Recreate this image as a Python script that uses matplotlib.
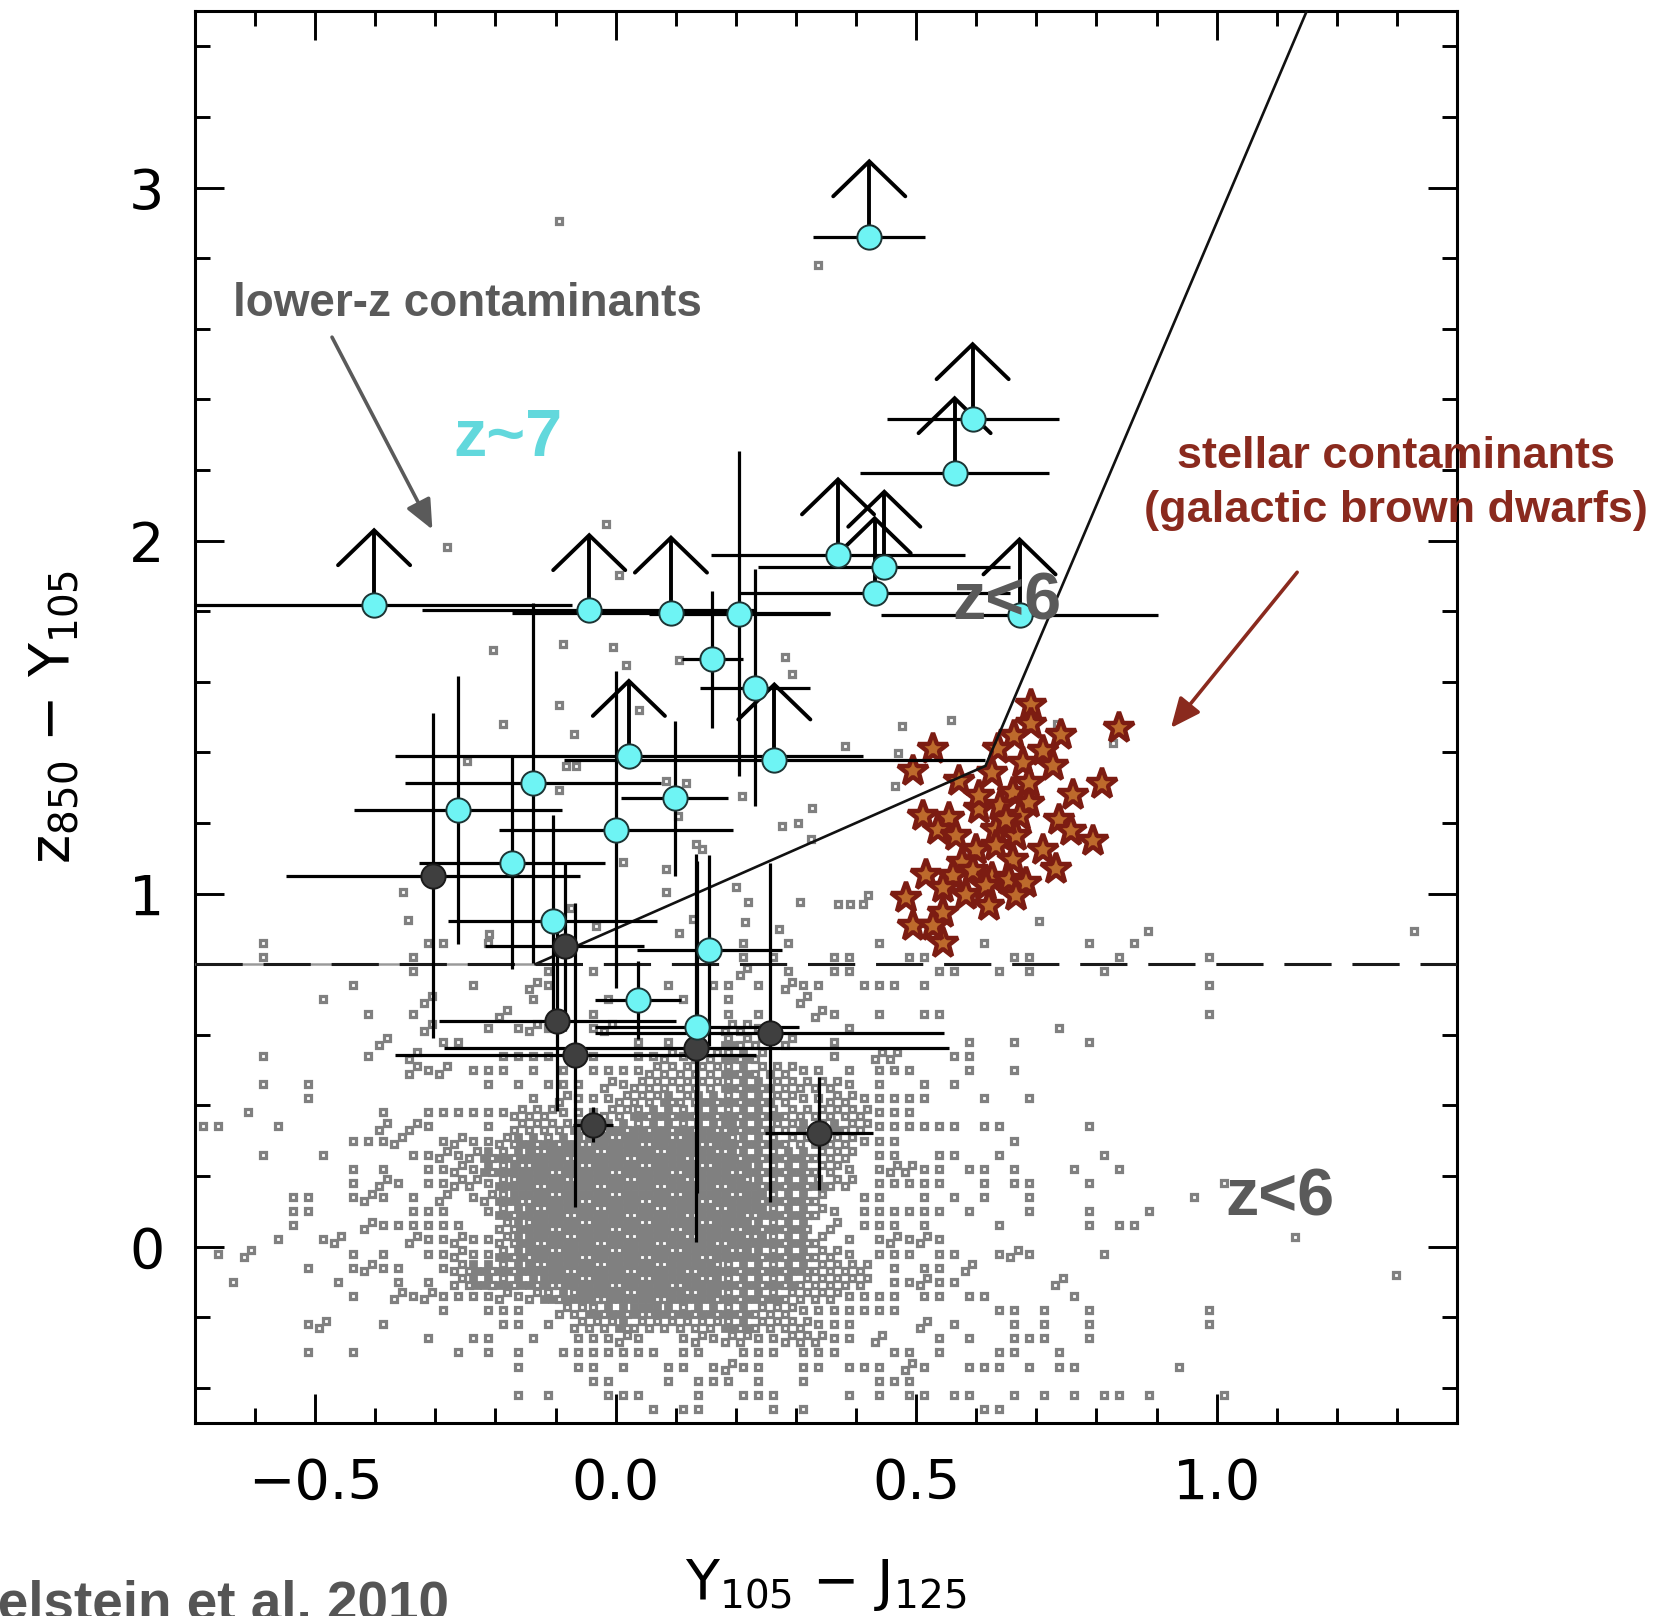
import numpy as np
import matplotlib
matplotlib.use("Agg")
import matplotlib.pyplot as plt
from matplotlib.ticker import MultipleLocator, FixedLocator, FuncFormatter

# ---------------------------------------------------------------- data ----
# z~7 candidates (cyan): Y105-J125, z850-Y105, errors, lower-limit flag
CAND_X    = [0.422, 0.594, 0.564, 0.370, 0.447, 0.431, 0.672, -0.402, -0.044, 0.092,
             0.206, 0.161, 0.232, 0.022, 0.264, -0.138, -0.263, 0.098, 0.001, -0.172,
             -0.105, 0.156, 0.037, 0.135]
CAND_Y    = [2.861, 2.343, 2.190, 1.960, 1.925, 1.850, 1.790, 1.816, 1.802, 1.795,
             1.793, 1.663, 1.583, 1.389, 1.379, 1.313, 1.236, 1.270, 1.181, 1.087,
             0.921, 0.839, 0.699, 0.622]
CAND_XERR = [0.093, 0.143, 0.157, 0.212, 0.210, 0.225, 0.230, 0.330, 0.278, 0.264,
             0.150, 0.051, 0.092, 0.390, 0.350, 0.213, 0.173, 0.089, 0.195, 0.155,
             0.174, 0.120, 0.071, 0.170]
CAND_YERR = [0.0, 0.0, 0.0, 0.0, 0.0, 0.0, 0.0, 0.0, 0.0, 0.0,
             0.460, 0.195, 0.335, 0.0, 0.0, 0.510, 0.380, 0.220, 0.450, 0.300,
             0.300, 0.270, 0.110, 0.470]
CAND_LOWLIM = [1, 1, 1, 1, 1, 1, 1, 1, 1, 1,
               0, 0, 0, 1, 1, 0, 0, 0, 0, 0,
               0, 0, 0, 0]

# rejected candidates (dark grey)
REJ_X    = [-0.304, -0.085, -0.097, -0.067, -0.038, 0.134, 0.256, 0.338]
REJ_Y    = [1.050, 0.850, 0.638, 0.542, 0.345, 0.562, 0.605, 0.321]
REJ_XERR = [0.244, 0.132, 0.197, 0.300, 0.033, 0.420, 0.290, 0.090]
REJ_YERR = [0.460, 0.240, 0.255, 0.430, 0.050, 0.550, 0.480, 0.160]

# brown dwarfs (stars)
BD_X = [0.691, 0.691, 0.663, 0.741, 0.711, 0.838, 0.636, 0.528, 0.494, 0.572,
        0.627, 0.677, 0.727, 0.810, 0.761, 0.661, 0.639, 0.605, 0.688, 0.672,
        0.511, 0.555, 0.536, 0.566, 0.738, 0.758, 0.794, 0.633, 0.666, 0.711,
        0.733, 0.600, 0.633, 0.661, 0.577, 0.516, 0.561, 0.594, 0.627, 0.655,
        0.683, 0.544, 0.583, 0.616, 0.666, 0.622, 0.483, 0.544, 0.494, 0.544,
        0.528, 0.650, 0.605, 0.688]
BD_Y = [1.535, 1.479, 1.446, 1.450, 1.403, 1.469, 1.408, 1.408, 1.346, 1.318,
        1.342, 1.370, 1.361, 1.309, 1.280, 1.285, 1.247, 1.238, 1.257, 1.219,
        1.219, 1.214, 1.181, 1.162, 1.209, 1.176, 1.148, 1.181, 1.162, 1.124,
        1.068, 1.124, 1.134, 1.096, 1.087, 1.053, 1.049, 1.063, 1.044, 1.039,
        1.030, 1.016, 0.997, 1.020, 0.992, 0.964, 0.987, 0.945, 0.907, 0.860,
        0.907, 1.209, 1.275, 1.313]

# field galaxies: counts per colour-colour cell (rows from top, columns from left)
FIELD_X_START = -0.70
FIELD_CELL_X = 0.025
FIELD_Y_TOP = 0.88
FIELD_CELL_Y = 0.04
FIELD_ROWS = [
    "....1..... .....11..1 .......... ......1..1 .....1.... ..1......1 ..1.......",
    "....1..... ....1..... .......... ......1.1. ..11...11. ....11.... .1.....1..",
    ".......... ....1..... ...1..1... ......2..1 ..11.....1 1..1.1.... 1.........",
    ".......... 1.......1. ..21...... .1..11.1.2 11..111.1. .......... .......1..",
    "........1. .....2.... ..1....1.. ..1..1.... 2......... .......... ..........",
    ".......... .1..1..... 2.....1... .....1.1.. .21..1..11 .......... .......1..",
    ".......... .....2...1 .121..12.. .....221.. ...1...... .......1.. ..........",
    ".......... ..2...11.. .........1 .1.1.322.2 ..1....... .1..1....1 ..........",
    "....1..... .1..2..... 1111..1..1 12122332.. ..1..22... 11........ ..........",
    ".......... ....212.11 1.1.1.1111 2222233222 11.1.111.. .1..1..... ..........",
    "....1..1.. .........1 .1.111.212 2222233322 2221.1..1. 1......... ..........",
    ".......1.. .......... ..1.211122 2323333322 112211111. ..1..1.... ..........",
    "...1...... ..1..11111 1222111223 3333333332 22222111.. .......... ..........",
    "11...1.... ..2.21...1 .222233333 3333343322 3232211111 1.11.....1 ..........",
    ".......... 1112..1211 2333334444 4444443332 2322111... ....1..... ..........",
    "....1...1. ....112123 3344444444 4444443333 3222.11..1 1..1...... 1.........",
    ".......... 1.1..11213 3444444444 4444444333 3221.12211 .11.1...1. .1........",
    ".......... 1.21.11221 3444444444 4444444333 3322.11111 ..1.11...1 ........1.",
    "......11.. 121.1.2.12 3444444444 4444444433 32..11..1. 1.1..1.... ......1...",
    "......11.. ....111..1 3344444444 4444444433 321.111111 .1...1...1 ...1......",
    "......1... .2111111.. 2344444444 4444444333 3.2.111.1. ...1.....1 .11.......",
    ".....1..12 ....211211 2344444444 4444444433 32.1.12121 .......... ..........",
    ".1.2...... 1.1..11211 3344444444 4444444333 3221.111.1 1..121.... 1.........",
    ".......1.. 1211..1233 3344444444 4444433333 32222.1.11 .2........ ..........",
    "..1......1 ...1.1.233 3334444444 4444433333 22222.1121 1......2.. ..........",
    ".......... 1..2121111 2123344444 4444433332 2221111.11 .11.....1. ..........",
    ".......... ......1..1 11..223334 4333333222 1111111... ...11.1..1 .......1..",
    ".......12. ..1....... 11.1.22232 2222233222 2111....2. 1...1.1..1 .......1..",
    ".......... .....1..11 ..1..11121 ..12122112 2211.2...1 .1..111..1 ..........",
    ".......1.. 1......1.1 .1..111111 1.11..111. 111...11.1 ...11..1.. ..........",
    ".......... .......... .1...11.1. .11.1211.. 11.111.21. .111.1.11. .....1....",
    ".......... .......... ......11.. .1.111.1.. 1....111.. .......... ..........",
    ".......... .......... .1.1...111 ...1..111. ...1.1.11. 11..1.1.1. 11.1....1.",
    ".......... .......... .......... 1.11....1. 1......... ..11...... ..........",
]
# isolated field galaxies outside the gridded area
FIELD_EXTRA_X = [-0.095, 0.337, -0.281, -0.016, 0.006, -0.204, -0.088, -0.005, 0.017, 0.105,
                 -0.094, -0.187, 0.039, -0.070, -0.248, -0.083, -0.066, -0.094, 0.084, 0.117,
                 0.210, 0.103, 0.281, 0.293, 0.381, 0.469, 0.476, 0.558, 0.827, 0.464,
                 0.735, -0.354, -0.346, -0.210, 0.012, 0.083, 0.084, 0.128, 0.144, 0.200,
                 0.221, 0.216, 0.271, 0.307, 0.277, 0.303, 0.327, 0.106, -0.033, 0.325,
                 0.370, 0.390, 0.411, 0.420, 0.705, 0.885, 1.328, 0.134, -0.074, 1.131,
                 1.298]
FIELD_EXTRA_Y = [2.906, 2.780, 1.981, 2.046, 1.901, 1.689, 1.708, 1.699, 1.647, 1.661,
                 1.533, 1.481, 1.519, 1.453, 1.375, 1.361, 1.362, 1.294, 1.318, 1.313,
                 1.275, 1.219, 1.671, 1.623, 1.419, 1.398, 1.474, 1.491, 1.427, 1.304,
                 1.479, 1.003, 0.924, 0.886, 1.088, 1.068, 1.003, 0.928, 1.126, 1.018,
                 0.975, 0.918, 0.900, 0.975, 1.192, 1.200, 1.243, 0.888, 0.907, 1.155,
                 0.970, 0.970, 0.970, 0.997, 0.922, 0.895, 0.895, 1.140, 0.959, 0.027,
                 -0.080]

# colour selection: z-Y > 0.8, z-Y > 0.9 + 0.75 (Y-J), z-Y > -1.1 + 4.0 (Y-J)
SEL_ZY_MIN = 0.8
SEL_DIAG = (0.9, 0.75)
SEL_STEEP = (-1.1, 4.0)

XLIM = (-0.7, 1.4)
YLIM = (-0.5, 3.5)
XTICKS = [-0.5, 0.0, 0.5, 1.0]
YTICKS = [0, 1, 2, 3]

# --------------------------------------------------------------- style ----
plt.rcParams['font.family'] = ['Liberation Sans', 'DejaVu Sans']
plt.rcParams['mathtext.fontset'] = 'custom'
plt.rcParams['mathtext.rm'] = 'DejaVu Sans'
plt.rcParams['mathtext.it'] = 'DejaVu Sans'
plt.rcParams['mathtext.default'] = 'regular'
plt.rcParams['lines.scale_dashes'] = False
AXIS_FONT = ['DejaVu Sans']

W, H = 1655, 1616
fig = plt.figure(figsize=(W / 100, H / 100), dpi=100)
ax = fig.add_axes([195 / W, 1 - 1423 / H, 1262 / W, 1412 / H])
ax.set_xlim(*XLIM)
ax.set_ylim(*YLIM)

# field galaxies: open squares; in crowded cells most of them merge into solid grey
sub = {1: [(0, 0)],
       2: [(-0.25, -0.25), (0.25, 0.25)],
       3: [(-0.25, -0.25), (0.25, -0.25), (0.0, 0.25)],
       4: [(-0.25, -0.25), (0.25, -0.25), (-0.25, 0.25), (0.25, 0.25)]}
ox_open, oy_open, ox_full, oy_full = [], [], [], []
for j, row in enumerate(FIELD_ROWS):
    cells = row.replace(" ", "")
    yc = FIELD_Y_TOP - FIELD_CELL_Y * (j + 0.5)
    for i, ch in enumerate(cells):
        if ch.isdigit() and int(ch) > 0:
            n = min(int(ch), 4)
            xc = FIELD_X_START + FIELD_CELL_X * (i + 0.5)
            top = (i * 7 + j * 3) % n          # which square stays open on top
            for k, (ox, oy) in enumerate(sub[n]):
                px = xc + ox * FIELD_CELL_X
                py = yc + oy * FIELD_CELL_Y
                if n >= 3 and k != top:
                    ox_full.append(px)
                    oy_full.append(py)
                else:
                    ox_open.append(px)
                    oy_open.append(py)
ox_open += FIELD_EXTRA_X
oy_open += FIELD_EXTRA_Y
field_grey = '#808080'
ax.plot(ox_full, oy_full, ls='none', marker='s', ms=4.6, mew=2.0, mec=field_grey,
        mfc=field_grey, zorder=1)
ax.plot(ox_open, oy_open, ls='none', marker='s', ms=4.3, mew=2.3, mec=field_grey,
        mfc='white', zorder=1.1)

# brown dwarfs
ax.plot(BD_X, BD_Y, ls='none', marker='*', ms=23, mew=3.2, mfc='#bd6a2c',
        mec='#7c1c12', zorder=2)

# selection window
x_a = (SEL_ZY_MIN - SEL_DIAG[0]) / SEL_DIAG[1]
x_b = (SEL_DIAG[0] - SEL_STEEP[0]) / (SEL_STEEP[1] - SEL_DIAG[1])
x_c = (YLIM[1] - SEL_STEEP[0]) / SEL_STEEP[1]
ax.plot([XLIM[0], x_a], [SEL_ZY_MIN, SEL_ZY_MIN], color='#9a9a9a', lw=1.8, zorder=3)
ax.plot([x_a, x_b, x_c],
        [SEL_DIAG[0] + SEL_DIAG[1] * x_a, SEL_DIAG[0] + SEL_DIAG[1] * x_b,
         SEL_STEEP[0] + SEL_STEEP[1] * x_c],
        color='#111111', lw=1.9, zorder=3, solid_joinstyle='miter')
ax.plot(XLIM, [SEL_ZY_MIN, SEL_ZY_MIN], color='#1a1a1a', lw=2.2,
        dashes=(34, 15), zorder=3)

# error bars
ax.errorbar(CAND_X, CAND_Y, xerr=CAND_XERR, yerr=CAND_YERR, fmt='none',
            ecolor='black', elinewidth=2.3, capsize=0, zorder=4)
ax.errorbar(REJ_X, REJ_Y, xerr=REJ_XERR, yerr=REJ_YERR, fmt='none',
            ecolor='black', elinewidth=2.3, capsize=0, zorder=4)

# lower-limit arrows on z850-Y105
ARROW_LEN, HEAD_HW, HEAD_H = 0.213, 0.060, 0.099
for x, y, lim in zip(CAND_X, CAND_Y, CAND_LOWLIM):
    if lim:
        tip = y + ARROW_LEN
        ax.plot([x, x], [y, tip], color='black', lw=2.8, zorder=4,
                solid_capstyle='butt')
        ax.plot([x - HEAD_HW, x, x + HEAD_HW], [tip - HEAD_H, tip, tip - HEAD_H],
                color='black', lw=2.8, zorder=4, solid_capstyle='round',
                solid_joinstyle='miter')

ax.plot(REJ_X, REJ_Y, ls='none', marker='o', ms=17.5, mfc='#3f3f3f',
        mec='#1a1a1a', mew=1.4, zorder=5)
ax.plot(CAND_X, CAND_Y, ls='none', marker='o', ms=17.5, mfc='#6ef4f4',
        mec='#1c3434', mew=1.4, zorder=6)

# annotations
grey = '#5a5a5a'
brown = '#8a2a1e'
ax.text(-0.636, 2.635, 'lower-z contaminants', fontsize=33, fontweight='bold',
        color=grey, ha='left', va='baseline', zorder=8)
ax.annotate('', xy=(-0.305, 2.031), xytext=(-0.472, 2.576),
            arrowprops=dict(arrowstyle='-|>,head_length=0.9,head_width=0.4',
                            mutation_scale=20, color=grey, lw=2.6,
                            shrinkA=0, shrinkB=0), zorder=8)
ax.text(-0.27, 2.238, 'z~7', fontsize=48, fontweight='bold', color='#62d8dc',
        ha='left', va='baseline', zorder=8)
ax.text(0.561, 1.775, 'z<6', fontsize=48, fontweight='bold', color=grey,
        ha='left', va='baseline', zorder=8)
ax.text(1.015, 0.087, 'z<6', fontsize=48, fontweight='bold', color=grey,
        ha='left', va='baseline', zorder=8)
ax.text(1.298, 2.205, 'stellar contaminants', fontsize=32.5, fontweight='bold',
        color=brown, ha='center', va='baseline', zorder=8, clip_on=False)
ax.text(1.298, 2.053, '(galactic brown dwarfs)', fontsize=32.5, fontweight='bold',
        color=brown, ha='center', va='baseline', zorder=8, clip_on=False)
ax.annotate('', xy=(0.924, 1.469), xytext=(1.134, 1.910),
            arrowprops=dict(arrowstyle='-|>,head_length=0.9,head_width=0.4',
                            mutation_scale=20, color=brown, lw=2.6,
                            shrinkA=0, shrinkB=0), zorder=8)

fig.text(449 / W, 1 - 1620 / H, 'Finkelstein et al. 2010', fontsize=39.5,
         fontweight='bold', color='#555555', ha='right', va='baseline')

# axes
ax.xaxis.set_major_locator(FixedLocator(XTICKS))
ax.yaxis.set_major_locator(FixedLocator(YTICKS))
ax.xaxis.set_minor_locator(MultipleLocator(0.1))
ax.yaxis.set_minor_locator(MultipleLocator(0.2))
ax.xaxis.set_major_formatter(FuncFormatter(lambda v, p: f"{v:.1f}".replace('-', '\u2212')))
ax.yaxis.set_major_formatter(FuncFormatter(lambda v, p: f"{v:.0f}"))
ax.tick_params(which='both', direction='in', top=True, right=True,
               width=2.1, color='black', labelsize=40)
ax.tick_params(which='major', length=21)
ax.tick_params(which='minor', length=11)
ax.tick_params(axis='x', pad=24)
ax.tick_params(axis='y', pad=22)
for lab in ax.get_xticklabels() + ax.get_yticklabels():
    lab.set_family(AXIS_FONT)
for s in ax.spines.values():
    s.set_linewidth(2.2)

ax.set_xlabel('Y$_{105}$ \u2212 J$_{125}$', fontsize=40, va='center', family=AXIS_FONT)
ax.xaxis.set_label_coords(0.5, -0.115)
ax.set_ylabel('z$_{850}$ \u2212 Y$_{105}$', fontsize=40, va='center', family=AXIS_FONT)
ax.yaxis.set_label_coords(-0.1125, 0.5)

fig.savefig('out.png', dpi=100)
